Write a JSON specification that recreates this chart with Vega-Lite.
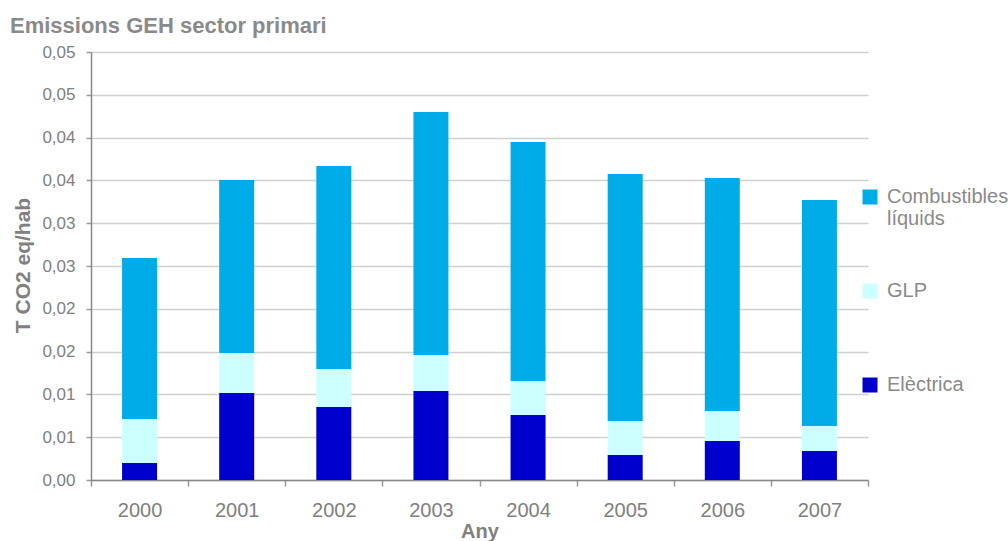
{
  "$schema": "https://vega.github.io/schema/vega-lite/v6.json",
  "width": 777,
  "height": 428,
  "autosize": "none",
  "padding": {"left": 91, "top": 52, "right": 140, "bottom": 61},
  "background": "white",
  "title": {
    "text": "Emissions GEH sector primari",
    "anchor": "start",
    "frame": "group",
    "dx": -81,
    "offset": 5,
    "font": "Liberation Sans",
    "fontSize": 22,
    "fontWeight": "bold",
    "color": "#8a8a8a"
  },
  "data": {
    "values": [
      {"any": "2000", "tipus": "Elèctrica", "valor": 0.00199, "ord": 1},
      {"any": "2000", "tipus": "GLP", "valor": 0.00514, "ord": 2},
      {"any": "2000", "tipus": "Combustibles líquids", "valor": 0.01881, "ord": 3},
      {"any": "2001", "tipus": "Elèctrica", "valor": 0.01016, "ord": 1},
      {"any": "2001", "tipus": "GLP", "valor": 0.00467, "ord": 2},
      {"any": "2001", "tipus": "Combustibles líquids", "valor": 0.02021, "ord": 3},
      {"any": "2002", "tipus": "Elèctrica", "valor": 0.00853, "ord": 1},
      {"any": "2002", "tipus": "GLP", "valor": 0.00444, "ord": 2},
      {"any": "2002", "tipus": "Combustibles líquids", "valor": 0.02371, "ord": 3},
      {"any": "2003", "tipus": "Elèctrica", "valor": 0.0104, "ord": 1},
      {"any": "2003", "tipus": "GLP", "valor": 0.00421, "ord": 2},
      {"any": "2003", "tipus": "Combustibles líquids", "valor": 0.02839, "ord": 3},
      {"any": "2004", "tipus": "Elèctrica", "valor": 0.00759, "ord": 1},
      {"any": "2004", "tipus": "GLP", "valor": 0.00397, "ord": 2},
      {"any": "2004", "tipus": "Combustibles líquids", "valor": 0.02792, "ord": 3},
      {"any": "2005", "tipus": "Elèctrica", "valor": 0.00292, "ord": 1},
      {"any": "2005", "tipus": "GLP", "valor": 0.00397, "ord": 2},
      {"any": "2005", "tipus": "Combustibles líquids", "valor": 0.02886, "ord": 3},
      {"any": "2006", "tipus": "Elèctrica", "valor": 0.00456, "ord": 1},
      {"any": "2006", "tipus": "GLP", "valor": 0.0035, "ord": 2},
      {"any": "2006", "tipus": "Combustibles líquids", "valor": 0.02722, "ord": 3},
      {"any": "2007", "tipus": "Elèctrica", "valor": 0.00339, "ord": 1},
      {"any": "2007", "tipus": "GLP", "valor": 0.00292, "ord": 2},
      {"any": "2007", "tipus": "Combustibles líquids", "valor": 0.0264, "ord": 3}
    ]
  },
  "mark": {"type": "bar", "width": 35},
  "encoding": {
    "x": {
      "field": "any",
      "type": "nominal",
      "scale": {"paddingInner": 0, "paddingOuter": 0},
      "axis": {
        "title": "Any",
        "labelAngle": 0,
        "tickBand": "extent",
        "grid": false,
        "domainColor": "#888888",
        "domainWidth": 1.5,
        "tickColor": "#999999",
        "tickWidth": 1.5,
        "tickSize": 6,
        "labelPadding": 14,
        "labelFont": "Liberation Sans",
        "labelFontSize": 20,
        "labelColor": "#808080",
        "titleFont": "Liberation Sans",
        "titleFontSize": 20,
        "titleFontWeight": "bold",
        "titleColor": "#808080",
        "titleBaseline": "top",
        "titleY": 41
      }
    },
    "y": {
      "field": "valor",
      "type": "quantitative",
      "aggregate": "sum",
      "stack": "zero",
      "scale": {"domain": [0, 0.05], "nice": false},
      "axis": {
        "title": "T CO2 eq/hab",
        "values": [0, 0.005, 0.01, 0.015, 0.02, 0.025, 0.03, 0.035, 0.04, 0.045, 0.05],
        "labelExpr": "replace(format(round(datum.value * 100 + 0.000001) / 100, '.2f'), '.', ',')",
        "gridColor": "#d0d0d0",
        "gridWidth": 1.5,
        "domainColor": "#888888",
        "domainWidth": 1.5,
        "tickColor": "#999999",
        "tickWidth": 1.5,
        "tickSize": 5,
        "labelPadding": 11,
        "labelFont": "Liberation Sans",
        "labelFontSize": 17,
        "labelColor": "#808080",
        "titleFont": "Liberation Sans",
        "titleFontSize": 21,
        "titleFontWeight": "bold",
        "titleColor": "#808080",
        "titleX": -58,
        "titleY": 213,
        "titleAngle": -90,
        "titleAlign": "center",
        "titleBaseline": "bottom"
      }
    },
    "color": {
      "field": "tipus",
      "type": "nominal",
      "scale": {
        "domain": ["Combustibles líquids", "GLP", "Elèctrica"],
        "range": ["#00ACE8", "#CCFFFF", "#0000CC"]
      },
      "legend": {
        "title": null,
        "orient": "none",
        "legendX": 769,
        "legendY": 135,
        "symbolType": "square",
        "symbolSize": 225,
        "symbolStrokeWidth": 0,
        "rowPadding": 52,
        "labelOffset": 7,
        "labelFont": "Liberation Sans",
        "labelFontSize": 20,
        "labelColor": "#8a8a8a",
        "labelLimit": 200,
        "labelExpr": "datum.label == 'Combustibles líquids' ? ['Combustibles', 'líquids'] : [datum.label, ' ']"
      }
    },
    "order": {"field": "ord", "type": "quantitative"}
  },
  "config": {
    "view": {"stroke": null},
    "axis": {"gridDash": []}
  }
}
